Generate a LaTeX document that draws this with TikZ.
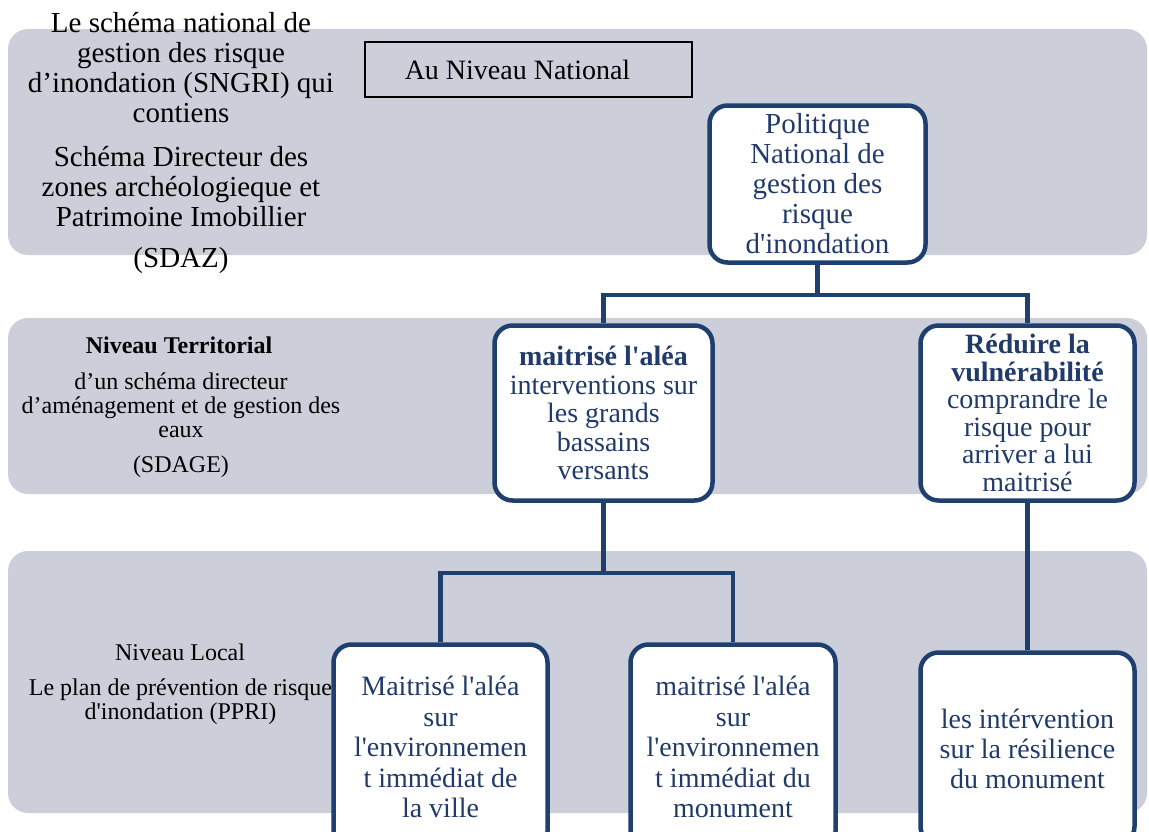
\documentclass[tikz,border=0pt]{standalone}
\usepackage{fontspec}
\setmainfont{Liberation Serif}[Ligatures=TeXOff]
\definecolor{bandgray}{RGB}{204,207,217}
\definecolor{navy}{RGB}{31,63,111}
\definecolor{navytext}{RGB}{32,58,106}
\begin{document}
\begin{tikzpicture}[x=1pt,y=-1pt,
  band/.style={fill=bandgray, rounded corners=20pt},
  box/.style={draw=navy, line width=4.5pt, fill=white, rounded corners=18pt,
    text=navytext, align=center, inner sep=0pt},
  conn/.style={draw=navy, line width=4.5pt},
  bigtxt/.style={align=center, inner sep=0pt, font=\fontsize{29}{30}\selectfont},
  midtxt/.style={align=center, inner sep=0pt, font=\fontsize{24}{24}\selectfont},
  natbox/.style={draw=black, line width=1.3pt, inner sep=0pt,
    minimum width=327pt, minimum height=55pt, font=\fontsize{28}{30}\selectfont}
]
\useasboundingbox (0,0) rectangle (1149,831);
\clip (0,0) rectangle (1149,831);
% bands
\fill[band] (8,29) rectangle (1147,255);
\fill[band] (8,318) rectangle (1147,494);
\fill[band] (8,551) rectangle (1147,813);

% left texts
\node[bigtxt] (t1) at (181,68) {Le schéma national de\\gestion des risque\\d’inondation (SNGRI) qui\\contiens};
\node[bigtxt] (t2) at (181,187) {Schéma Directeur des\\zones archéologieque et\\Patrimoine Imobillier};
\node[bigtxt] (t3) at (181,261) {(SDAZ)};
\node[midtxt, font=\fontsize{24}{24}\selectfont\bfseries] (t4) at (179,345) {Niveau Territorial};
\node[midtxt] (t5) at (181,405.5) {d’un schéma directeur\\d’aménagement et de gestion des\\eaux};
\node[midtxt] (t6) at (181,467) {(SDAGE)};
\node[midtxt] (t7) at (180,652) {Niveau Local};
\node[midtxt] (t8) at (180.5,702) {Le plan de prévention de risque\\d'inondation (PPRI)};

% national label
\node[natbox] (nat) at (528.5,69.5) {\hspace*{-22pt}Au Niveau National};

% boxes
\node[box, minimum width=216pt, minimum height=157pt, font=\fontsize{29}{30}\selectfont] (pol) at (817.5,184)
  {Politique\\National de\\gestion des\\risque\\d'inondation};
\node[box, minimum width=218pt, minimum height=175pt, font=\fontsize{28}{28.5}\selectfont] (mai) at (603.5,413)
  {\textbf{maitrisé l'aléa}\\interventions sur\\les grands\\bassains\\versants};
\node[box, minimum width=214pt, minimum height=175pt, font=\fontsize{28}{27.5}\selectfont] (red) at (1027.5,413)
  {\textbf{Réduire la}\\\textbf{vulnérabilité}\\comprandre le\\risque pour\\arriver a lui\\maitrisé};
\node[box, minimum width=214pt, minimum height=205pt, font=\fontsize{28}{30.5}\selectfont] (b1) at (440.5,747)
  {Maitrisé l'aléa\\sur\\l'environnemen\\t immédiat de\\la ville};
\node[box, minimum width=205pt, minimum height=205pt, font=\fontsize{28}{30.5}\selectfont] (b2) at (733,747)
  {maitrisé l'aléa\\sur\\l'environnemen\\t immédiat du\\monument};
\node[box, minimum width=214pt, minimum height=192pt, font=\fontsize{28}{30}\selectfont] (b3) at (1027.5,748.5)
  {les intérvention\\sur la résilience\\du monument};

% connectors
\coordinate (j1) at (817.5,295);
\coordinate (j2) at (603.5,573);
\draw[conn] (pol.south) -- (j1);
\draw[conn] (mai.north) |- (j1) -| (red.north);
\draw[conn] (mai.south) -- (j2);
\draw[conn] (b1.north) |- (j2) -| (b2.north);
\draw[conn] (red.south) -- (b3.north);
\end{tikzpicture}
\end{document}
